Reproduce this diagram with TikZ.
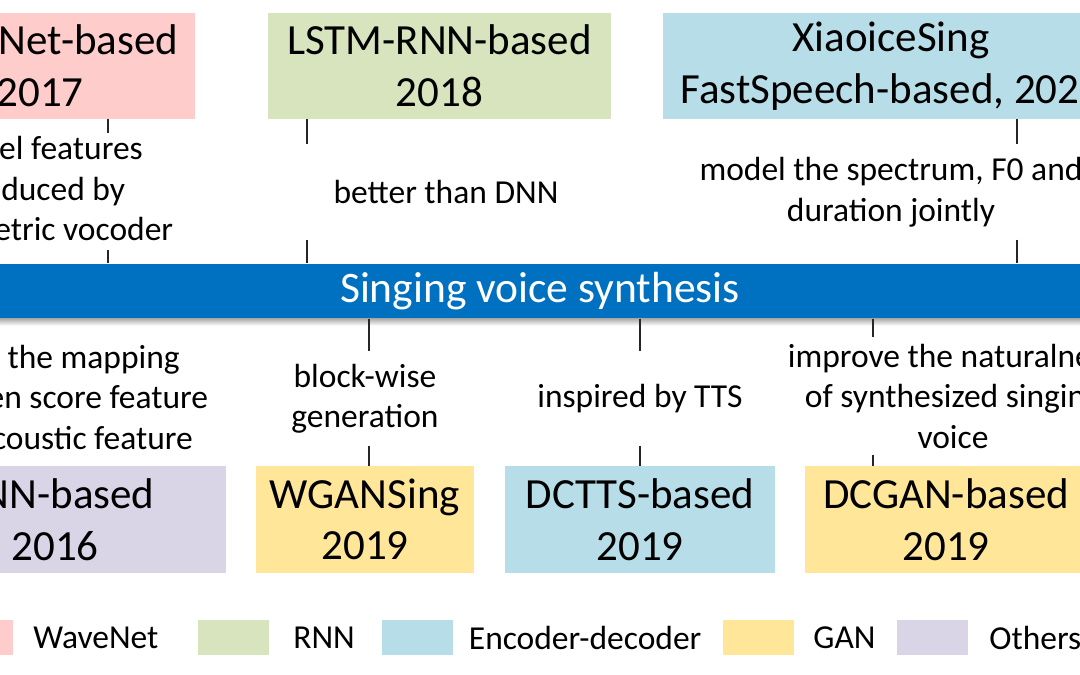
\documentclass[tikz,border=0pt]{standalone}
\usepackage{fontspec}
\setmainfont{Carlito}
\usetikzlibrary{positioning}

\definecolor{wavepink}{RGB}{255,204,204}
\definecolor{rnngreen}{RGB}{215,228,189}
\definecolor{encblue}{RGB}{183,222,232}
\definecolor{gangold}{RGB}{255,230,153}
\definecolor{othlilac}{RGB}{217,213,230}
\definecolor{barblue}{RGB}{0,112,192}

\begin{document}
\begin{tikzpicture}[
  x=1pt, y=-1pt,
  model/.style={
    rectangle, inner sep=0pt,
    minimum height=106pt,
    align=center, font=\fontsize{43}{51.6}\selectfont
  },
  note/.style={
    inner sep=0pt, minimum height=95pt,
    align=center, font=\fontsize{33.5}{40.5}\selectfont
  },
  tick/.style={draw=black!85, line width=1.3pt},
  key/.style={rectangle, inner sep=0pt, minimum width=71pt, minimum height=35pt},
  keytext/.style={inner sep=0pt, font=\fontsize{33.5}{40.5}\selectfont}
]
  \useasboundingbox (0,0) rectangle (1080,675);
  \clip (0,0) rectangle (1080,675);

  % timeline bar
  \node[fill=barblue, minimum width=1120pt, minimum height=55pt, inner sep=0pt,
        text=white, font=\fontsize{43.5}{52}\selectfont]
    (bar) at (540,291) {Singing voice synthesis};
  \shade[top color=black!32, bottom color=white]
    (bar.south west) rectangle ([yshift=-7pt]bar.south east);

  % models above the bar
  \node[model, fill=wavepink, minimum width=310pt] (wave) at (40,66)    {WaveNet-based\\2017};
  \node[model, fill=rnngreen, minimum width=343pt] (lstm) at (439.5,66) {LSTM-RNN-based\\2018};
  \node[model, fill=encblue,  minimum width=456pt] (xiao) at (891,66)   {XiaoiceSing\\FastSpeech-based, 2020};

  \node[note, minimum height=117pt] (wavenote) at (40,191.5)
    {model features\\produced by\\parametric vocoder};
  \node[note] (lstmnote) at (446,192) {better than DNN};
  \node[note] (xiaonote) at (891,192)
    {model the spectrum, F0 and\\duration jointly};

  % models below the bar
  \node[model, fill=othlilac, minimum width=342pt, minimum height=107pt] (dnn)   at (55,519.5)  {DNN-based\\2016};
  \node[model, fill=gangold,  minimum width=218pt, minimum height=107pt] (wgan)  at (365,519.5) {WGANSing\\2019};
  \node[model, fill=encblue,  minimum width=270pt, minimum height=107pt] (dctts) at (640,519.5) {DCTTS-based\\2019};
  \node[model, fill=gangold,  minimum width=282pt, minimum height=107pt] (dcgan) at (946,519.5) {DCGAN-based\\2019};

  \node[note, minimum height=118pt] (dnnnote) at (55,397)
    {learn the mapping\\between score feature\\and acoustic feature};
  \node[note] (wgannote)  at (365,398.5) {block-wise\\generation};
  \node[note] (dcttsnote) at (640,398.5) {inspired by TTS};
  \node[note, minimum height=118pt] (dcgannote) at (953,396)
    {improve the naturalness\\of synthesized singing\\voice};

  % tick positions
  \coordinate (wavetick)  at (108,0);
  \coordinate (lstmtick)  at (307,0);
  \coordinate (xiaotick)  at (1017,0);
  \coordinate (wgantick)  at (369,0);
  \coordinate (dcttstick) at (640,0);
  \coordinate (dcgantick) at (873,0);

  \draw[tick] (wave.south -| wavetick) -- (wavenote.north -| wavetick);
  \draw[tick] (wavenote.south -| wavetick) -- (bar.north -| wavetick);
  \draw[tick] (lstm.south -| lstmtick) -- (lstmnote.north -| lstmtick);
  \draw[tick] (lstmnote.south -| lstmtick) -- (bar.north -| lstmtick);
  \draw[tick] (xiao.south -| xiaotick) -- (xiaonote.north -| xiaotick);
  \draw[tick] (xiaonote.south -| xiaotick) -- (bar.north -| xiaotick);

  \draw[tick] (bar.south -| wgantick) -- (wgannote.north -| wgantick);
  \draw[tick] (wgannote.south -| wgantick) -- (wgan.north -| wgantick);
  \draw[tick] (bar.south -| dcttstick) -- (dcttsnote.north -| dcttstick);
  \draw[tick] (dcttsnote.south -| dcttstick) -- (dctts.north -| dcttstick);
  \draw[tick] (bar.south -| dcgantick) -- (dcgannote.north -| dcgantick);
  \draw[tick] (dcgannote.south -| dcgantick) -- (dcgan.north -| dcgantick);

  % legend
  \node[key, fill=wavepink] (kwave) at (-22.5,637.5) {};
  \node[keytext, right=20pt of kwave] (twave) {WaveNet};
  \node[key, fill=rnngreen] (krnn) at (233.5,637.5) {};
  \node[keytext, right=24pt of krnn] (trnn) {RNN};
  \node[key, fill=encblue] (kenc) at (417,637.5) {};
  \node[keytext, right=16pt of kenc] (tenc) {Encoder-decoder};
  \node[key, fill=gangold] (kgan) at (758.5,637.5) {};
  \node[keytext, right=19pt of kgan] (tgan) {GAN};
  \node[key, fill=othlilac] (koth) at (932.5,637.5) {};
  \node[keytext, right=21pt of koth] (toth) {Others};
\end{tikzpicture}
\end{document}
